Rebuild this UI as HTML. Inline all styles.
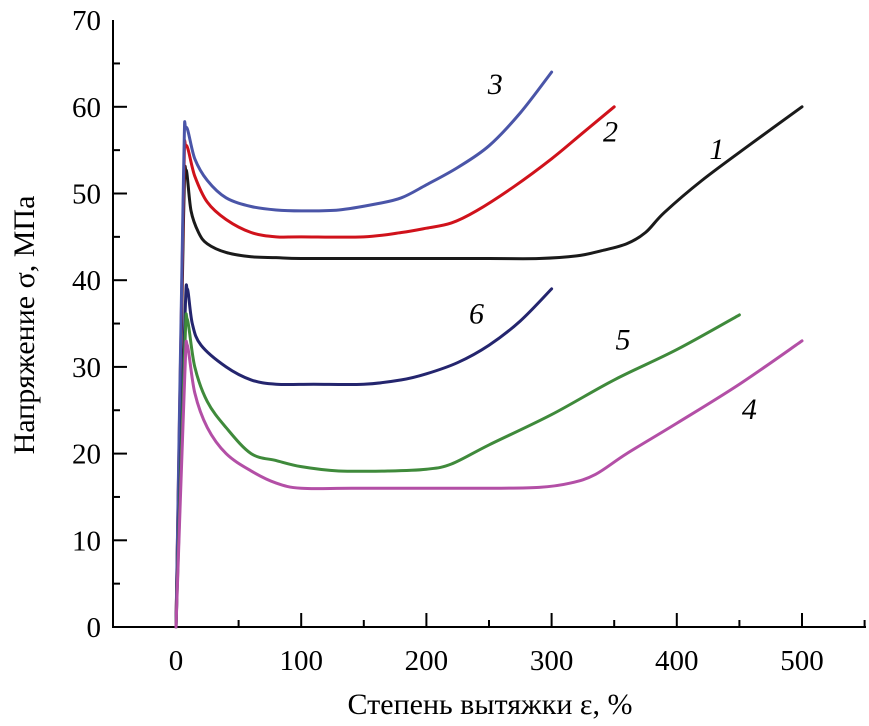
<!DOCTYPE html>
<html><head><meta charset="utf-8"><style>
html,body{margin:0;padding:0;background:#fff;}
svg{display:block;font-family:"Liberation Serif","DejaVu Serif",serif;}
</style></head><body>
<svg id="chart" width="869" height="726"></svg>
<script>
const xTicks=[0,100,200,300,400,500];
const yTicks=[0,10,20,30,40,50,60,70];
const curve1X=[0,6,8,12,18,25,40,60,80,100,150,200,250,290,320,340,360,375,390,420,460,500];
const curve1Y=[0,47,52.7,48,45.5,44.2,43.2,42.7,42.6,42.5,42.5,42.5,42.5,42.5,42.8,43.4,44.2,45.5,47.8,51.5,55.8,60];
const curve2X=[0,6,8,15,25,40,60,80,100,150,180,200,220,240,270,300,325,350];
const curve2Y=[0,50,55.5,52,49,47,45.5,45,45,45,45.5,46,46.6,48,50.8,54,57,60];
const curve3X=[0,6,8,15,25,40,60,80,100,130,160,180,200,225,250,275,300];
const curve3Y=[0,52,57.6,54,51.5,49.5,48.5,48.1,48,48.1,48.8,49.5,51,53,55.5,59.3,64];
const curve6X=[0,7,9,13,20,40,60,80,110,150,180,200,225,250,275,300];
const curve6Y=[0,35,39,35,32.5,30,28.5,28,28,28,28.5,29.2,30.5,32.5,35.3,39];
const curve5X=[0,7,9,15,25,40,60,80,100,130,170,200,220,250,300,350,400,450];
const curve5Y=[0,32,35.5,30,26,23,20,19.2,18.5,18,18,18.2,18.8,21,24.5,28.5,32,36];
const curve4X=[0,7,9,15,25,40,60,80,100,140,200,250,290,315,335,360,400,450,500];
const curve4Y=[0,29,32.5,27,23,20,18,16.6,16,16,16,16,16.1,16.6,17.6,20,23.5,28,33];
const seriesNames=["1","2","3","6","5","4"];
const labelPos=[[432,54],[347,56],[255,61.5],[240,35],[357,32],[458,24]];

const NS="http://www.w3.org/2000/svg";
const svg=document.getElementById('chart');
const X0=113,X1=866,Y0=627,Y1=20;
const sx=v=>176+v*1.252;
const sy=v=>627-v*8.67;
function mk(t,a,txt){const e=document.createElementNS(NS,t);for(const k in a)e.setAttribute(k,a[k]);if(txt!==undefined)e.textContent=txt;svg.appendChild(e);return e;}

let ax=mk('path',{d:`M${X0},${Y1} L${X0},${Y0} L${X1},${Y0}`,stroke:'#000','stroke-width':2,fill:'none'});


for(let v=-50;v<=550;v+=50){const major=v%100===0;const x=sx(v);if(x<X0+2)continue;mk('line',{x1:x,x2:x,y1:Y0,y2:Y0-(major?14:7),stroke:'#000','stroke-width':2});}
for(let v=5;v<=65;v+=5){const major=v%10===0;mk('line',{x1:X0,x2:X0+(major?14:7),y1:sy(v),y2:sy(v),stroke:'#000','stroke-width':2});}
xTicks.forEach(v=>{const t=mk('text',{x:sx(v),y:670,'text-anchor':'middle','font-size':29},String(v));

});
yTicks.forEach(v=>{const t=mk('text',{x:101,y:sy(v)+10,'text-anchor':'end','font-size':29},String(v));

});
let xt=mk('text',{x:490,y:714,'text-anchor':'middle','font-size':30},'Степень вытяжки ε, %');


let yt=mk('text',{x:0,y:0,'text-anchor':'middle','font-size':30,transform:'translate(34,325) rotate(-90)'},'Напряжение σ, МПа');



function smooth(xs,ys){const p=xs.map((x,i)=>[sx(x),sy(ys[i])]);let d=`M${p[0][0]},${p[0][1]}`;
for(let i=0;i<p.length-1;i++){const a=p[Math.max(0,i-1)],b=p[i],c=p[i+1],e=p[Math.min(p.length-1,i+2)];
const c1=[b[0]+(c[0]-a[0])/6,b[1]+(c[1]-a[1])/6],c2=[c[0]-(e[0]-b[0])/6,c[1]-(e[1]-b[1])/6];
d+=` C${c1[0]},${c1[1]} ${c2[0]},${c2[1]} ${c[0]},${c[1]}`;}return d;}
const allX=[curve1X,curve2X,curve3X,curve6X,curve5X,curve4X];
const allY=[curve1Y,curve2Y,curve3Y,curve6Y,curve5Y,curve4Y];
const colors=['#1a1a1a','#d0121b','#4a55a8','#24256e','#3f8a3b','#b34fa6'];
allX.forEach((xs,i)=>{const p=mk('path',{d:smooth(xs,allY[i]),stroke:colors[i],'stroke-width':3,fill:'none','stroke-linejoin':'round','stroke-linecap':'round'});


const t=mk('text',{x:sx(labelPos[i][0]),y:sy(labelPos[i][1]),'font-size':30,'font-style':'italic','text-anchor':'middle'},seriesNames[i]);

});
</script>
</body></html>
